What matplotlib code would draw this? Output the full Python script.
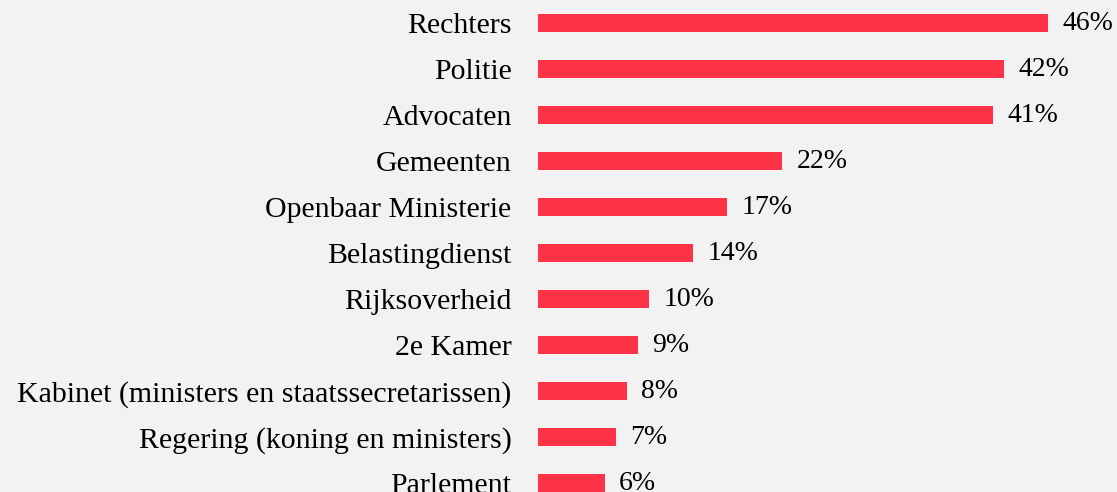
import matplotlib
matplotlib.use("Agg")
import matplotlib.pyplot as plt

categories = ["Rechters", "Politie", "Advocaten", "Gemeenten", "Openbaar Ministerie",
              "Belastingdienst", "Rijksoverheid", "2e Kamer",
              "Kabinet (ministers en staatssecretarissen)",
              "Regering (koning en ministers)", "Parlement"]
values = [46, 42, 41, 22, 17, 14, 10, 9, 8, 7, 6]
labels = [f"{v}%" for v in values]

bg = "#f2f2f2"
bar_color = "#ff3347"
plt.rcParams['font.family'] = ['Liberation Serif', 'DejaVu Serif']

fig = plt.figure(figsize=(11.17, 4.92), dpi=100, facecolor=bg)
ax = fig.add_axes([538/1117, 0, 1 - 538/1117, 1])
ax.set_facecolor(bg)
y = list(range(len(categories)))
ax.barh(y, values, height=0.39, color=bar_color)
ax.set_xlim(0, (1117 - 538) / 11.09)
ax.set_ylim((492 - 23) / 46, -0.5)
ax.set_yticks(y)
ax.set_yticklabels(categories, fontsize=21.5)
ax.tick_params(axis='y', length=0, pad=19)
ax.set_xticks([])
for s in ax.spines.values():
    s.set_visible(False)
for yi, v, lab in zip(y, values, labels):
    ax.annotate(lab, (v, yi), xytext=(10.5, 0), textcoords='offset points',
                va='center', ha='left', fontsize=20)
fig.savefig("out.png", dpi=100, facecolor=bg)
